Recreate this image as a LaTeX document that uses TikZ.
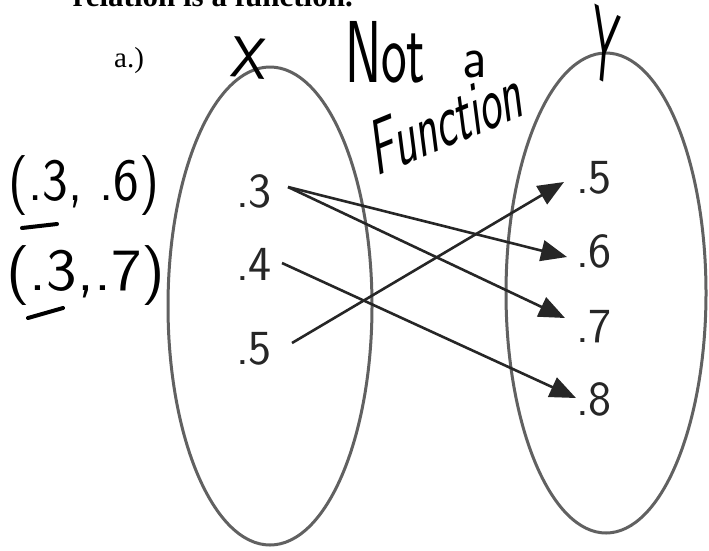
\documentclass[tikz,border=0pt]{standalone}
\usepackage{fontspec}
\setmainfont{Liberation Serif}
\usetikzlibrary{arrows.meta,shapes.geometric}
\begin{document}
\begin{tikzpicture}[x=1pt,y=-1pt,
  oval/.style={ellipse, draw=black!62, line width=3pt, inner sep=0pt},
  val/.style={font=\fontsize{49}{49}\selectfont\sffamily, text=black!85, inner sep=0pt, anchor=base west},
  hand/.style={font=\sffamily, text=black, inner sep=0pt},
  conn/.style={draw=black!85, line width=2.6pt, -{Triangle[length=26pt,width=21pt]}},
  penline/.style={draw=black, line width=4pt, line cap=round}
]
\useasboundingbox (0,0) rectangle (709,550);
\clip (0,0) rectangle (709,550);

% title (cut off at the top)
\node[font=\fontsize{31}{31}\selectfont\bfseries, anchor=base east, inner sep=0pt] (title) at (353,6) {relation is a function.};
\node[font=\fontsize{29}{29}\selectfont, anchor=base west, inner sep=0pt] (part) at (114,67) {a.)};

% sets
\node[oval, minimum width=204pt, minimum height=478pt] (setX) at (270,306) {};
\node[oval, minimum width=200pt, minimum height=480pt] (setY) at (606,293) {};

% handwritten labels
\node[hand, font=\fontsize{58}{58}\selectfont\sffamily, rotate=-5] (lblX) at (249,58) {X};
\node[hand, font=\fontsize{104}{104}\selectfont\sffamily, xscale=0.42, rotate=-12] (lblY) at (605,46) {Y};
\node[hand, font=\fontsize{88}{88}\selectfont\sffamily, xscale=0.62, anchor=base west] (notw) at (345,82) {Not};
\node[hand, font=\fontsize{60}{60}\selectfont\sffamily, xscale=0.9, anchor=base west] (aw) at (462,77) {a};
\node[hand, font=\fontsize{80}{80}\selectfont\sffamily, xscale=0.56, rotate=13] (funcw) at (448,119) {Function};

% handwritten pairs
\node[hand, font=\fontsize{60}{60}\selectfont\sffamily, xscale=0.91, anchor=base west] (pairA) at (8,200) {(.3, .6)};
\node[hand, font=\fontsize{60}{60}\selectfont\sffamily, xscale=1.08, anchor=base west] (pairB) at (6,290) {(.3,.7)};
\draw[penline] (22,228) -- (57,224);
\draw[penline] (28,318) -- (63,308);

% domain values
\node[val] (l3) at (236,207) {.3};
\node[val] (l4) at (236,280) {.4};
\node[val] (l5) at (236,364) {.5};
% range values
\node[val] (r5) at (576,193) {.5};
\node[val] (r6) at (576,267) {.6};
\node[val] (r7) at (576,342) {.7};
\node[val] (r8) at (576,415) {.8};

% connector ends
\coordinate (s3) at (288,187);
\coordinate (s4) at (282,263);
\coordinate (s5) at (292,343);
\coordinate (t5) at (564,182);
\coordinate (t6) at (567,257);
\coordinate (t7) at (565,318);
\coordinate (t8) at (576,398);

\draw[conn] (s3) -- (t6);
\draw[conn] (s3) -- (t7);
\draw[conn] (s4) -- (t8);
\draw[conn] (s5) -- (t5);
\end{tikzpicture}
\end{document}
